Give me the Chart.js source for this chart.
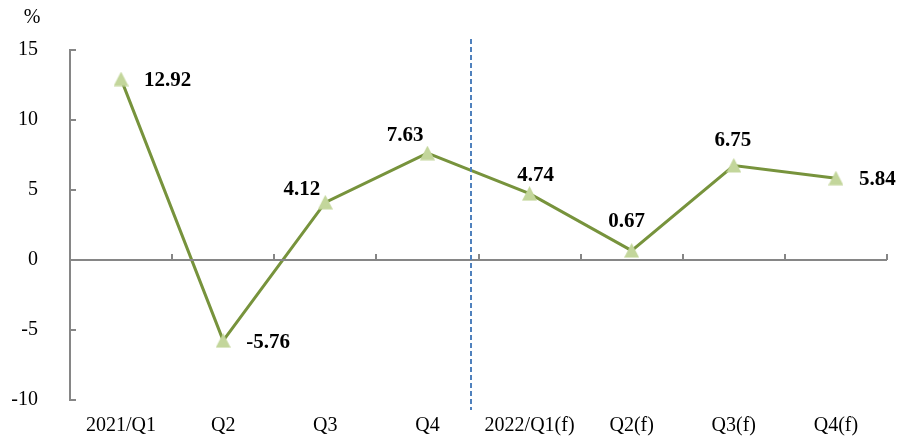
<!DOCTYPE html>
<html>
<head>
<meta charset="utf-8">
<script src="https://cdn.jsdelivr.net/npm/chart.js@4/dist/chart.umd.min.js"></script>
<style>
  html, body { margin: 0; padding: 0; background: #fff; }
  #grafico { display: block; }
</style>
</head>
<body>
<canvas id="grafico" width="912" height="439"></canvas>
<script>
// data
const categorias = ['2021/Q1', 'Q2', 'Q3', 'Q4', '2022/Q1(f)', 'Q2(f)', 'Q3(f)', 'Q4(f)'];
const valores = [12.92, -5.76, 4.12, 7.63, 4.74, 0.67, 6.75, 5.84];
const yTicks = [-10, -5, 0, 5, 10, 15];
const unidade = '%';

// placement of each value label relative to its point (pixels)
const rotuloAlinha = ['left', 'left', 'right', 'right', 'center', 'center', 'center', 'left'];
const rotuloDx = [23, 23, -5, -4, 6, -5, -1, 23];
const rotuloDy = [1.5, 2, -13, -18, -18, -29, -25, 1];
const DIVISOR = 3.43; // dashed line between actual and forecast (category units)

const corEixo = '#868686';
const fonteSerif = '"Liberation Serif", "Times New Roman", serif';

// triangle marker centred in its box, like the office chart
function fazTriangulo() {
    let c = document.createElement('canvas');
    c.width = 15;
    c.height = 15;
    let g = c.getContext('2d');
    g.fillStyle = '#C3D69B';
    g.beginPath();
    g.moveTo(7.5, 0);
    g.lineTo(15, 14.5);
    g.lineTo(0, 14.5);
    g.closePath();
    g.fill();
    return c;
}

const eixosPlugin = {
    id: 'eixos',
    afterDatasetsDraw(chart) {
        const ctx = chart.ctx;
        const x = chart.scales.x;
        const y = chart.scales.y;
        const area = chart.chartArea;
        ctx.save();

        // zero line with small upward ticks between categories
        const y0 = Math.round(y.getPixelForValue(0));
        ctx.strokeStyle = corEixo;
        ctx.lineWidth = 2;
        ctx.beginPath();
        ctx.moveTo(area.left, y0);
        ctx.lineTo(area.right, y0);
        for (let i = 0; i < categorias.length; i++) {
            let px = Math.round(x.getPixelForValue(i + 0.5));
            ctx.moveTo(px, y0);
            ctx.lineTo(px, y0 - 6);
        }
        // y tick marks pointing inward
        yTicks.forEach(function(v) {
            let py = Math.round(y.getPixelForValue(v));
            ctx.moveTo(area.left, py);
            ctx.lineTo(area.left + 6, py);
        });
        ctx.stroke();

        // dashed divider
        const xd = Math.round(x.getPixelForValue(DIVISOR));
        ctx.strokeStyle = '#4F81BD';
        ctx.lineWidth = 2;
        ctx.setLineDash([5, 3]);
        ctx.beginPath();
        ctx.moveTo(xd, area.top - 11);
        ctx.lineTo(xd, area.bottom + 10);
        ctx.stroke();
        ctx.setLineDash([]);

        // unit label
        ctx.fillStyle = '#000';
        ctx.font = '20px ' + fonteSerif;
        ctx.textAlign = 'center';
        ctx.textBaseline = 'middle';
        ctx.fillText(unidade, 32, 18);

        // value labels
        const meta = chart.getDatasetMeta(0);
        ctx.font = 'bold 21px ' + fonteSerif;
        meta.data.forEach(function(pt, i) {
            ctx.textAlign = rotuloAlinha[i];
            ctx.fillText(valores[i].toFixed(2), pt.x + rotuloDx[i], pt.y + rotuloDy[i]);
        });
        ctx.restore();
    }
};

var grafico = document.getElementById('grafico').getContext('2d');

var meugrafico = new Chart(grafico, {
    type: 'line',
    data: {
        labels: categorias,
        datasets: [{
            data: valores,
            borderColor: '#77933C',
            borderWidth: 3,
            tension: 0,
            pointStyle: fazTriangulo(),
            pointRadius: 8,
            pointHoverRadius: 8
        }]
    },
    options: {
        responsive: false,
        animation: false,
        layout: {
            padding: { left: 0, right: 25, top: 50, bottom: 0 }
        },
        scales: {
            x: {
                offset: true,
                grid: { display: false },
                border: { display: false },
                ticks: {
                    color: '#000',
                    font: { family: fonteSerif, size: 20 },
                    padding: 6,
                    maxRotation: 0,
                    autoSkip: false
                },
                afterFit: function(scale) { scale.height = 39; }
            },
            y: {
                min: -10,
                max: 15,
                grid: { display: false },
                border: { display: true, color: corEixo, width: 2 },
                afterBuildTicks: function(scale) {
                    scale.ticks = yTicks.map(function(v) { return { value: v }; });
                },
                ticks: {
                    color: '#000',
                    font: { family: fonteSerif, size: 20 },
                    padding: 24
                },
                afterFit: function(scale) { scale.width = 70; }
            }
        },
        plugins: {
            legend: { display: false },
            tooltip: { enabled: false }
        }
    },
    plugins: [eixosPlugin]
});
</script>
</body>
</html>
